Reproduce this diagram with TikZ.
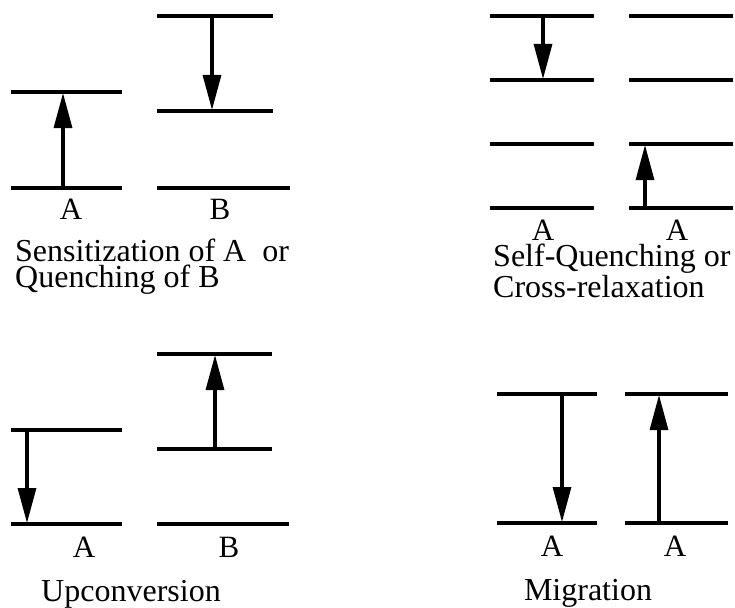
\documentclass[tikz,border=0pt]{standalone}
\usepackage{fontspec}
\setmainfont{Liberation Serif}
\usetikzlibrary{arrows.meta}
\begin{document}
\begin{tikzpicture}[x=1pt,y=-1pt,
  lvl/.style={line width=3.4pt},
  arr/.style={line width=3.2pt,-{Triangle[length=35pt,width=18pt]}},
  lab/.style={font=\fontsize{31}{31}\selectfont,anchor=base,inner sep=0pt},
  captxt/.style={font=\fontsize{32}{26}\selectfont,anchor=base west,inner sep=0pt,align=left},
  captxtc/.style={font=\fontsize{32}{32}\selectfont,anchor=base,inner sep=0pt}]
\useasboundingbox (0,0) rectangle (735,607);
% ---------- Panel 1: Sensitization ----------
\draw[lvl] (11,92) -- (122,92);
\draw[lvl] (11,188) -- (122,188);
\draw[lvl] (157,16) -- (273,16);
\draw[lvl] (157,111) -- (273,111);
\draw[lvl] (157,188) -- (290,188);
\coordinate (p1a0) at (63,188);
\coordinate (p1a1) at (63,93);
\coordinate (p1b0) at (212,16);
\coordinate (p1b1) at (212,110);
\draw[arr] (p1a0) -- (p1a1);
\draw[arr] (p1b0) -- (p1b1);
\node[lab] (l1a) at (71,219) {A};
\node[lab] (l1b) at (220,219) {B};
\node[captxt] (c1) at (15,287) {Sensitization of A\ \ or\\Quenching of B};
% ---------- Panel 2: Self-quenching ----------
\draw[lvl] (490,16) -- (594,16);
\draw[lvl] (490,80) -- (594,80);
\draw[lvl] (490,144) -- (594,144);
\draw[lvl] (490,208) -- (594,208);
\draw[lvl] (629,16) -- (733,16);
\draw[lvl] (629,80) -- (733,80);
\draw[lvl] (629,144) -- (733,144);
\draw[lvl] (629,208) -- (733,208);
\coordinate (p2a0) at (543,16);
\coordinate (p2a1) at (543,79);
\coordinate (p2b0) at (645,208);
\coordinate (p2b1) at (645,145);
\draw[arr] (p2a0) -- (p2a1);
\draw[arr] (p2b0) -- (p2b1);
\node[lab] (l2a) at (543,240) {A};
\node[lab] (l2b) at (677,240) {A};
\node[captxt] (c2) at (493,297) {Self-Quenching or\\Cross-relaxation};
% ---------- Panel 3: Upconversion ----------
\draw[lvl] (11,430) -- (122,430);
\draw[lvl] (11,524) -- (122,524);
\draw[lvl] (157,354) -- (272,354);
\draw[lvl] (157,449) -- (272,449);
\draw[lvl] (157,524) -- (289,524);
\coordinate (p3a0) at (27,430);
\coordinate (p3a1) at (27,523);
\coordinate (p3b0) at (215,449);
\coordinate (p3b1) at (215,355);
\draw[arr] (p3a0) -- (p3a1);
\draw[arr] (p3b0) -- (p3b1);
\node[lab] (l3a) at (84,557) {A};
\node[lab] (l3b) at (229,557) {B};
\node[captxtc] (c3) at (131,601) {Upconversion};
% ---------- Panel 4: Migration ----------
\draw[lvl] (497,394) -- (597,394);
\draw[lvl] (497,523) -- (597,523);
\draw[lvl] (625,394) -- (728,394);
\draw[lvl] (625,523) -- (728,523);
\coordinate (p4a0) at (562,394);
\coordinate (p4a1) at (562,522);
\coordinate (p4b0) at (659,523);
\coordinate (p4b1) at (659,395);
\draw[arr] (p4a0) -- (p4a1);
\draw[arr] (p4b0) -- (p4b1);
\node[lab] (l4a) at (552,556) {A};
\node[lab] (l4b) at (675,556) {A};
\node[captxtc] (c4) at (588,600) {Migration};
\end{tikzpicture}
\end{document}
